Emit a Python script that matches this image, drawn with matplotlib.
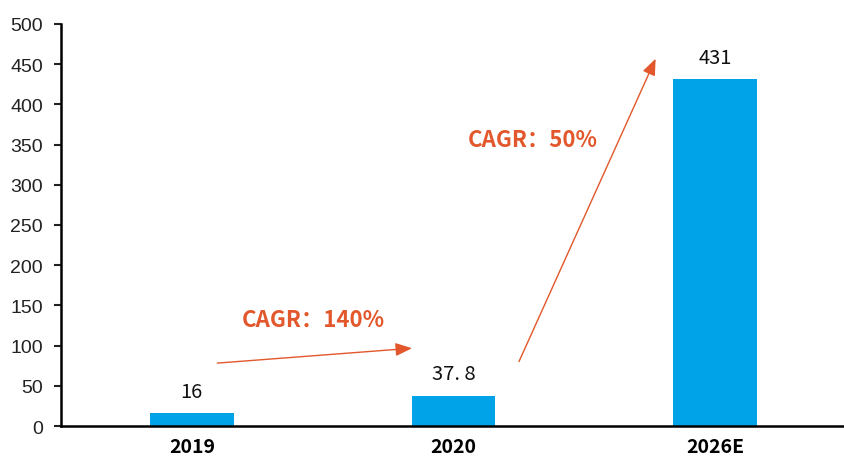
import matplotlib.pyplot as plt

# Chart data
categories = ["2019", "2020", "2026E"]
values = [16, 37.8, 431]
value_labels = ["16", "37. 8", "431"]
cagr_labels = ["CAGR：140%", "CAGR：50%"]

bar_color = "#00A2E8"
accent = "#E2572B"
cjk = ['Noto Sans CJK SC', 'DejaVu Sans']

plt.rcParams['font.family'] = ['Liberation Sans', 'Noto Sans CJK SC', 'DejaVu Sans']

fig = plt.figure(figsize=(8.44, 4.6), dpi=100)
ax = fig.add_axes([0.0723, 0.0717, 0.93, 0.874])

x = list(range(len(categories)))
ax.bar(x, values, width=0.32, color=bar_color, zorder=2)

# value labels above bars
for xi, v, lab in zip(x, values, value_labels):
    ax.text(xi, v + 14, lab, ha='center', va='bottom', fontsize=14.5,
            fontweight='medium', family=cjk, color='#111111')

ax.set_xlim(-0.5, 2.5)
ax.set_ylim(0, 500)
ax.set_yticks(range(0, 501, 50))
ax.set_xticks(x)
ax.set_xticklabels(categories, fontweight='bold', fontsize=14, family=cjk)
ax.tick_params(axis='y', labelsize=14, length=5, width=1.5, direction='out',
               colors='#222222', pad=8)
ax.tick_params(axis='x', length=0, pad=8)

for s in ['top', 'right']:
    ax.spines[s].set_visible(False)
ax.spines['left'].set_linewidth(1.8)
ax.spines['bottom'].set_linewidth(1.8)

# growth arrows
arrow_kw = dict(arrowstyle='-|>,head_length=1.0,head_width=0.4', color=accent, lw=1.0)
ax.annotate('', xy=(0.852, 97), xytext=(0.087, 78), arrowprops=arrow_kw)
ax.annotate('', xy=(1.777, 460), xytext=(1.246, 77), arrowprops=arrow_kw)

ax.text(0.466, 133, cagr_labels[0], ha='center', va='center', fontsize=16,
        fontweight='bold', color=accent, family=cjk)
ax.text(1.303, 357, cagr_labels[1], ha='center', va='center', fontsize=16,
        fontweight='bold', color=accent, family=cjk)

fig.savefig('out.png', dpi=100)
